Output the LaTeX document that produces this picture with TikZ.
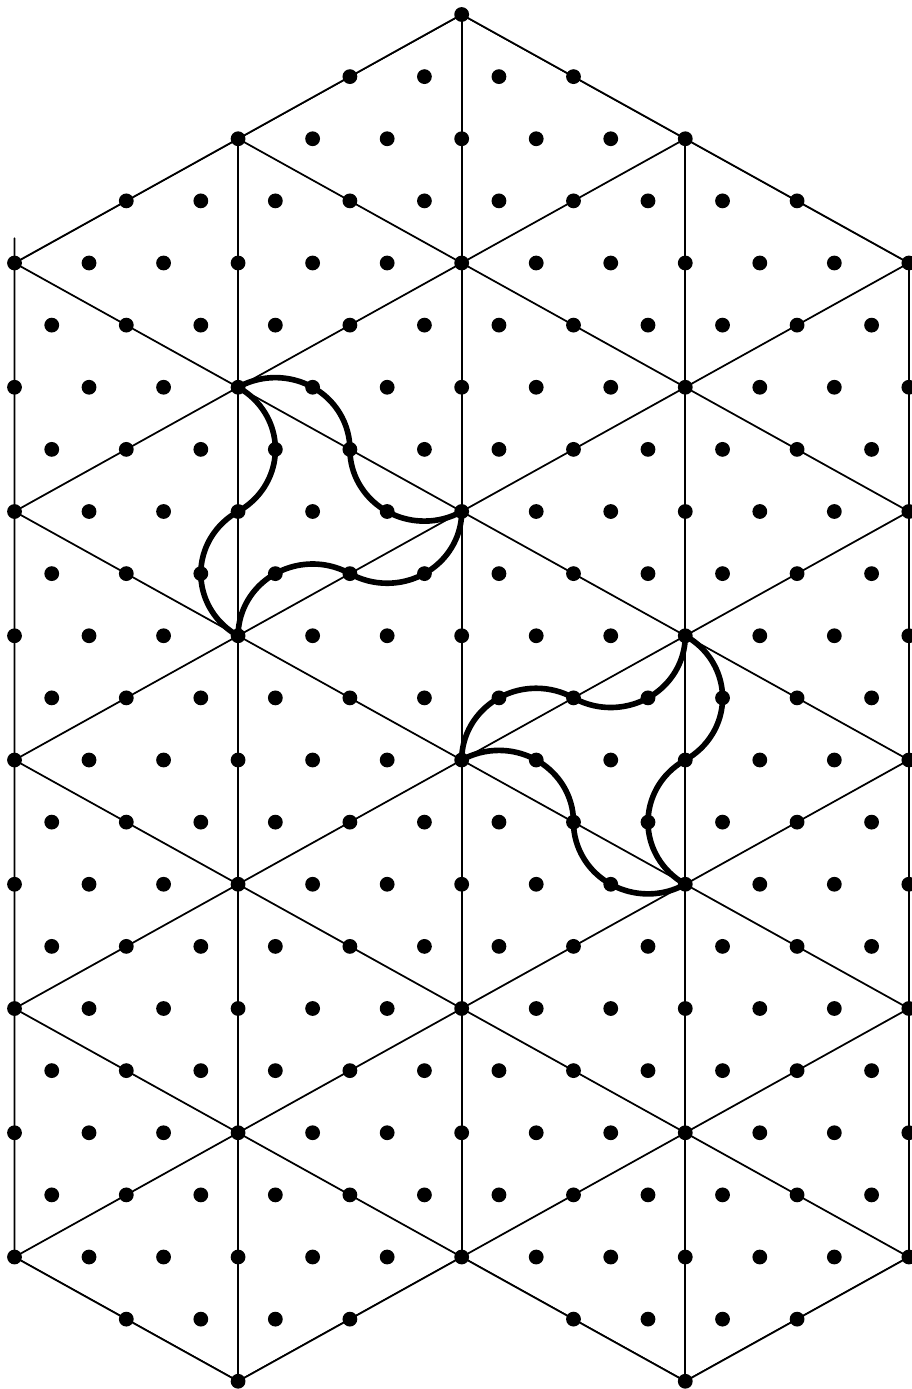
\documentclass[tikz,border=0pt]{standalone}
\usepackage{tikz}
\usetikzlibrary{calc}

\begin{document}
\begin{tikzpicture}[
    x=1.4906cm, y=1.2425cm,
    grid/.style={line width=1pt, black, line join=round},
    dot/.style={black},
    tile/.style={line width=3.2pt, black, line join=round, x radius=1.4906cm, y radius=1.4347cm}
]
\path[use as bounding box, fill=white] (-0.1946,-18.1247) rectangle (12.029,4.2334);

\coordinate (a1) at (3,-2);
\coordinate (b1) at (6,-4);
\coordinate (c1) at (3,-6);
\coordinate (a2) at (6,-8);
\coordinate (b2) at (9,-6);
\coordinate (c2) at (9,-10);

\begin{scope}
\clip (0,0) -- (6,4) -- (12,0) -- (12,-16) -- (9,-18) -- (6,-16) -- (3,-18) -- (0,-16) -- cycle;
\foreach \col in {0,3,...,12} \draw[grid] (\col,4.5) -- (\col,-18.5);
\foreach \c in {0,-4,...,-24} \draw[grid] (0,\c) -- (12,\c+8);
\foreach \c in {8,4,...,-16} \draw[grid] (0,\c) -- (12,\c-8);
\end{scope}
\draw[grid] (0,0.4) -- (0,0) -- (6,4) -- (12,0) -- (12,-16) -- (9,-18) -- (6,-16) -- (3,-18) -- (0,-16) -- cycle;

\foreach \row in {-18,...,4}{
  \foreach \col in {0,...,12}{
    \pgfmathsetmacro\ux{\col+0.5*mod(abs(\row),2)}
    \pgfmathtruncatemacro\dotok{(\ux<12.1)&&(((\row)<1)||(abs(\ux-6)<1.5*(4-(\row))+0.1))&&(((\row)>-17)||(min(abs(\ux-3),abs(\ux-9))<1.5*((\row)+18)+0.1))}
    \ifnum\dotok=1 \fill[dot] (\ux,\row) circle[radius=0.148cm]; \fi
  }
}

\draw[tile] (a1) arc[start angle=120,end angle=0] arc[start angle=180,end angle=300]
  arc[start angle=0,end angle=-120] arc[start angle=60,end angle=180]
  arc[start angle=240,end angle=120] arc[start angle=-60,end angle=60] -- cycle;

\draw[tile] (a2) arc[start angle=180,end angle=60] arc[start angle=240,end angle=360]
  arc[start angle=60,end angle=-60] arc[start angle=120,end angle=240]
  arc[start angle=300,end angle=180] arc[start angle=0,end angle=120] -- cycle;

\end{tikzpicture}
\end{document}
